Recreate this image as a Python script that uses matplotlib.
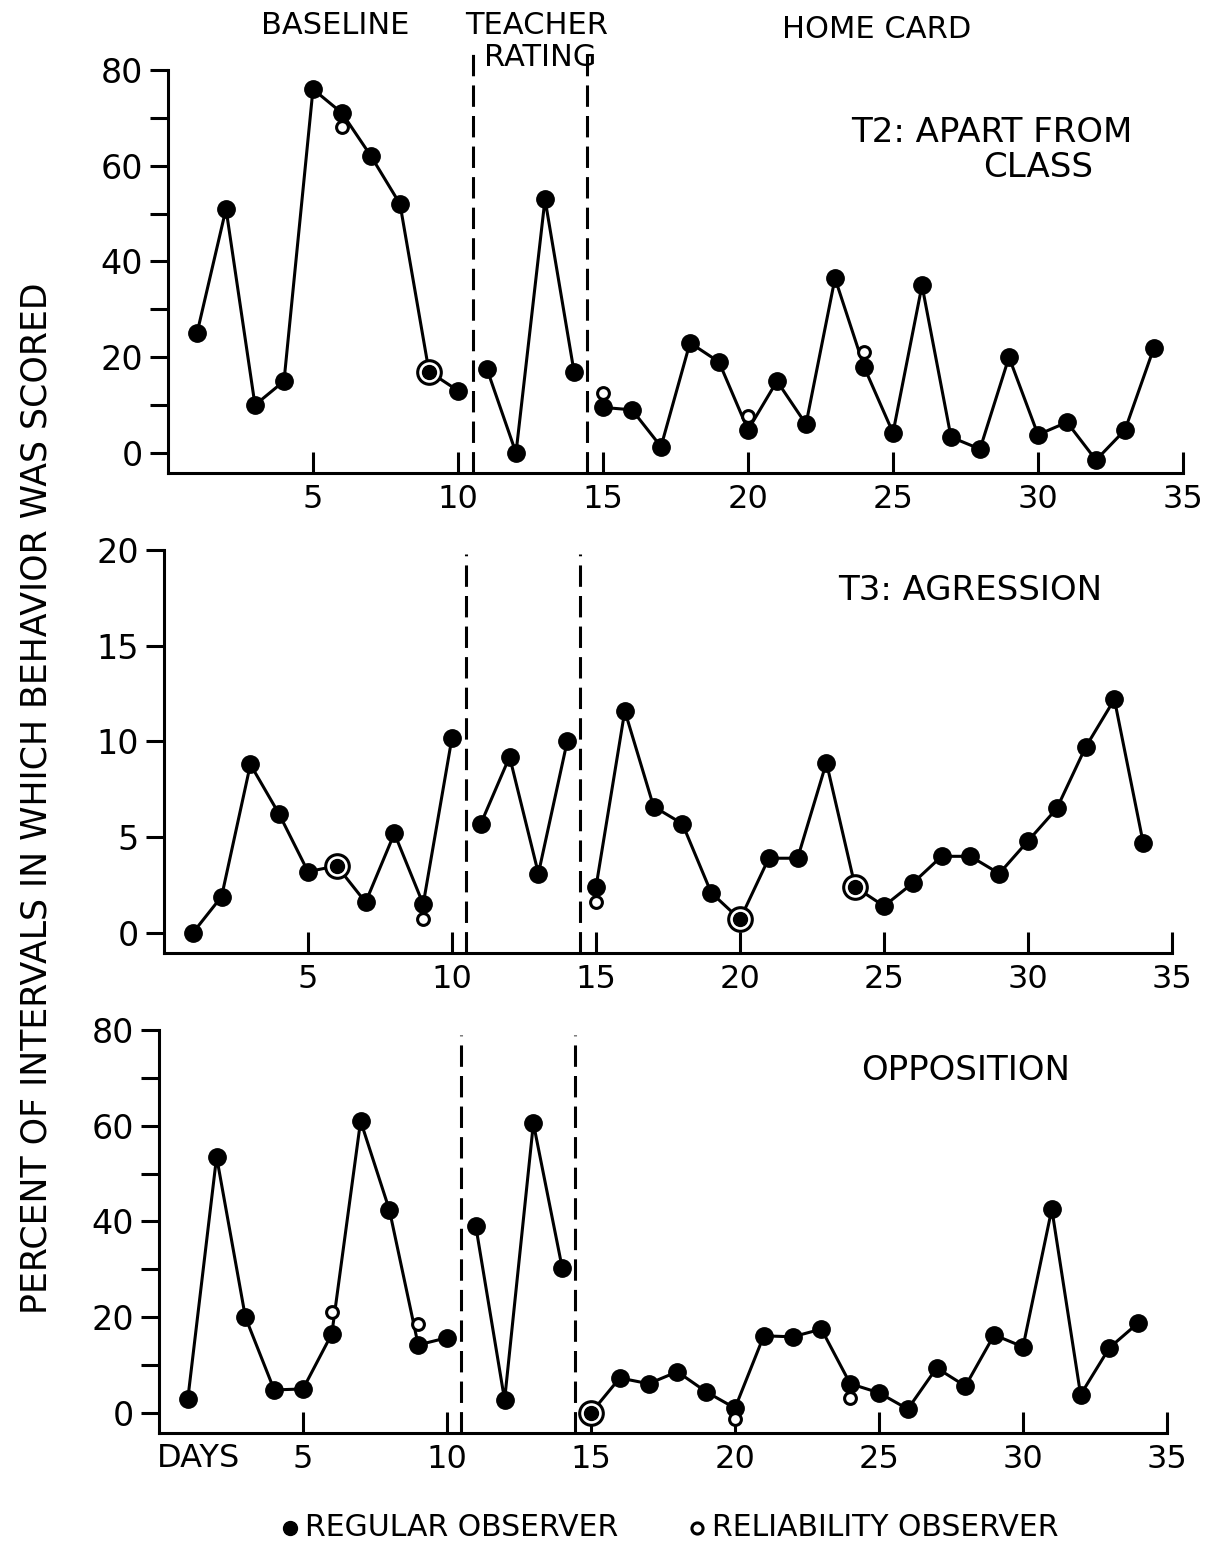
import numpy as np
import matplotlib.pyplot as plt

plt.rcParams['font.family'] = ['DejaVu Sans']

days = np.arange(1, 35)
phase_breaks = [10.5, 14.45]
phases = [(1, 10), (11, 14), (15, 34)]

# T2: apart from class (regular observer)
t2_reg = [25, 51, 10, 15, 76, 71, 62, 52, 17, 13,
          17.5, 0, 53, 17,
          9.5, 9, 1.3, 23, 19, 4.8, 15, 6, 36.5, 18, 4.2, 35, 3.3, 0.8,
          20, 3.8, 6.4, -1.5, 4.8, 22]
# T3: agression
t3_reg = [0, 1.9, 8.8, 6.2, 3.2, 3.5, 1.6, 5.2, 1.5, 10.2,
          5.7, 9.2, 3.1, 10.0,
          2.4, 11.6, 6.6, 5.7, 2.1, 0.7, 3.9, 3.9, 8.9, 2.4, 1.4, 2.6, 4.0, 4.0,
          3.1, 4.8, 6.5, 9.7, 12.2, 4.7]
# opposition
op_reg = [2.9, 53.5, 20, 4.8, 5, 16.5, 61, 42.4, 14.2, 15.7,
          39, 2.7, 60.5, 30.3,
          0, 7.3, 6.1, 8.6, 4.4, 1.0, 16.1, 15.9, 17.5, 6.1, 4.2, 0.8, 9.4, 5.6,
          16.3, 13.8, 42.6, 3.8, 13.6, 18.8]

# reliability observer checks
rel_days = [6, 9, 15, 20, 24]
t2_rel = [68, 17, 12.5, 7.7, 21]
t3_rel = [3.5, 0.7, 1.6, 0.7, 2.4]
op_rel = [21, 18.6, 0, -1.3, 3.2]

panels = [
    dict(reg=t2_reg, rel=t2_rel, ylim=(-4.2, 80), major=[0, 20, 40, 60, 80],
         minor=[10, 30, 50, 70], title=['T2: APART FROM', 'CLASS'],
         rect=[168 / 1214, 1 - 473 / 1549, 1015 / 1214, 403 / 1549], dtop=84.5),
    dict(reg=t3_reg, rel=t3_rel, ylim=(-1.05, 20), major=[0, 5, 10, 15, 20],
         minor=[], title=['T3: AGRESSION'],
         rect=[164 / 1214, 1 - 953 / 1549, 1008 / 1214, 403 / 1549], dtop=19.8),
    dict(reg=op_reg, rel=op_rel, ylim=(-4.2, 80), major=[0, 20, 40, 60, 80],
         minor=[10, 30, 50, 70], title=['OPPOSITION'],
         rect=[159 / 1214, 1 - 1433 / 1549, 1008 / 1214, 403 / 1549], dtop=79),
]

fig = plt.figure(figsize=(12.14, 15.49), dpi=100)

for i, p in enumerate(panels):
    ax = fig.add_axes(p['rect'])
    reg = np.array(p['reg'])
    for a, b in phases:
        m = (days >= a) & (days <= b)
        ax.plot(days[m], reg[m], color='black', lw=2.2, zorder=2)
    # circled points where both observers agree
    agree = [d for d, v in zip(rel_days, p['rel']) if abs(reg[d - 1] - v) < 1e-9]
    other = [(d, v) for d, v in zip(rel_days, p['rel']) if abs(reg[d - 1] - v) >= 1e-9]
    ax.plot(days, reg, 'o', color='black', ms=12.5, zorder=3)
    for d in agree:
        ax.plot(d, reg[d - 1], 'o', mfc='white', mec='black', mew=2.2, ms=17,
                zorder=4)
        ax.plot(d, reg[d - 1], 'o', color='black', ms=10, zorder=5)
    for d, v in other:
        ax.plot(d, v, 'o', mfc='white', mec='black', mew=2.2, ms=8.5, zorder=5)

    lo, hi = p['ylim']
    for xb in phase_breaks:
        ax.plot([xb, xb], [lo, p['dtop']], color='black', lw=2.2,
                dashes=(7, 3), clip_on=False, zorder=1)

    ax.set_xlim(0, 35)
    ax.set_ylim(lo, hi)
    for s in ['top', 'right']:
        ax.spines[s].set_visible(False)
    for s in ['left', 'bottom']:
        ax.spines[s].set_linewidth(2.2)
    ax.set_xticks([5, 10, 15, 20, 25, 30, 35])
    ax.set_xticklabels(['5', '10', '15', '20', '25', '30', '35'])
    ax.set_yticks(p['major'])
    ax.set_yticks(p['minor'], minor=True)
    ax.tick_params(axis='x', direction='in', length=15, width=2.2, pad=8,
                   labelsize=23)
    ax.tick_params(axis='y', which='both', direction='out', length=13,
                   width=2.2, pad=5, labelsize=24)

    if len(p['title']) == 2:
        ax.text(0.812, 0.845, p['title'][0], transform=ax.transAxes,
                ha='center', va='center', fontsize=24.5)
        ax.text(0.857, 0.757, p['title'][1], transform=ax.transAxes,
                ha='center', va='center', fontsize=24.5)
    else:
        ax.text(0.8, 0.9, p['title'][0], transform=ax.transAxes,
                ha='center', va='center', fontsize=24.5)
    if i == 2:
        ax.text(-0.002, -0.063, 'DAYS', transform=ax.transAxes, ha='left',
                va='center', fontsize=23)

# phase headings
fig.text(335 / 1214, 1 - 26 / 1549, 'BASELINE', ha='center', va='center',
         fontsize=22)
fig.text(537 / 1214, 1 - 26 / 1549, 'TEACHER', ha='center', va='center',
         fontsize=22)
fig.text(540 / 1214, 1 - 57 / 1549, 'RATING', ha='center', va='center',
         fontsize=22)
fig.text(877 / 1214, 1 - 29 / 1549, 'HOME CARD', ha='center', va='center',
         fontsize=22)

fig.text(37 / 1214, 1 - 798 / 1549,
         'PERCENT OF INTERVALS IN WHICH BEHAVIOR WAS SCORED',
         rotation=90, ha='center', va='center', fontsize=25)

# legend along the bottom
lax = fig.add_axes([0, 0, 1, 1], facecolor='none')
lax.set_xlim(0, 1214)
lax.set_ylim(1549, 0)
lax.axis('off')
lax.plot([290], [1528], 'o', color='black', ms=10)
lax.text(305, 1528, 'REGULAR OBSERVER', ha='left', va='center', fontsize=21.5)
lax.plot([697], [1528], 'o', mfc='white', mec='black', mew=2.2, ms=8)
lax.text(712, 1528, 'RELIABILITY OBSERVER', ha='left', va='center',
         fontsize=21.5)

fig.savefig('out.png', dpi=100)
